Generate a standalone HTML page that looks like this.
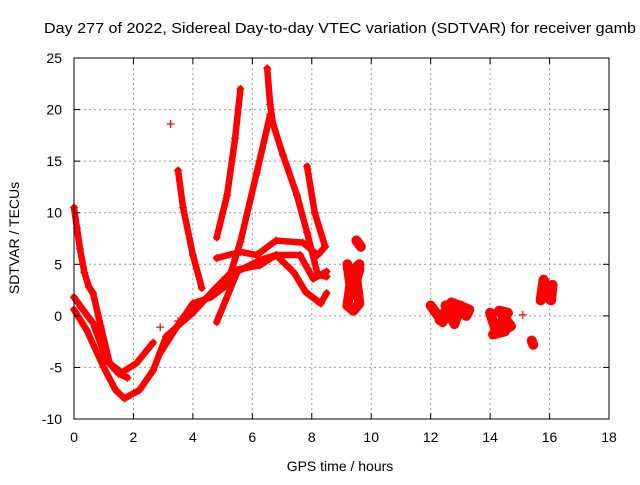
<!DOCTYPE html>
<html><head><meta charset="utf-8"><style>
body{margin:0;background:#fff}
svg{font-family:"Liberation Sans",sans-serif;font-size:14px}
</style></head><body>
<svg width="640" height="480">
<text x="340" y="33" text-anchor="middle" textLength="592" lengthAdjust="spacingAndGlyphs" style="font-size:15px">Day 277 of 2022, Sidereal Day-to-day VTEC variation (SDTVAR) for receiver gamb</text>
<g id="grid"></g>
<g id="marks"></g>
<rect x="74" y="58" width="535" height="361" fill="none" stroke="#000"/>
<g id="ticks"></g>
<text x="340" y="471" text-anchor="middle">GPS time / hours</text>
<text transform="translate(19,238) rotate(-90)" text-anchor="middle">SDTVAR / TECUs</text>
</svg>
<script>
const xTicks=[0,2,4,6,8,10,12,14,16,18];
const yTicks=[-10,-5,0,5,10,15,20,25];
const trackSteep=[[0,10.5],[0.1,8.5],[0.2,6.5],[0.35,4.2],[0.5,2.8],[0.64,2.2],[0.9,-1],[1.2,-4.6],[1.6,-5.5],[2.1,-4.6],[2.66,-2.6]];
const trackMid=[[0,1.8],[0.3,0.6],[0.64,-0.7],[1.1,-4.3],[1.5,-5.6],[1.8,-6]];
const trackLow=[[0,0.6],[0.43,-1.4],[1,-5],[1.4,-7.2],[1.7,-8],[2.2,-7.2],[2.66,-5.3],[3.1,-2],[3.6,-0.7],[4,0.3],[4.7,2.5],[5.35,4.4],[6.25,4.9],[6.8,5.9],[7.4,4.2],[7.8,2.3],[8.3,1.2],[8.5,2.2]];
const trackRise=[[2.9,-3.6],[3.45,-1.1],[4,1.2],[4.6,1.8],[5.15,3],[5.6,7.2],[6.15,13.9],[6.6,19.5],[7.03,15.6],[7.5,11.7],[7.84,8.1],[8.2,4],[8.5,3.8]];
const trackLate=[[4.8,-0.6],[5.5,4.3],[6.25,5.4],[6.8,5.9],[7.6,5.9],[8.05,3.6],[8.5,4.3]];
const trackUpper=[[4.8,5.6],[5.6,6.2],[6.15,5.9],[6.8,7.3],[7.7,7.1],[8.2,5.9],[8.45,6.7]];
const trackArc=[[3.5,14.1],[3.67,10.5],[4,5.9],[4.3,2.7]];
const trackClimb=[[4.8,7.6],[5.15,11.7],[5.42,17.2],[5.6,22]];
const trackSpike=[[6.5,24],[6.6,20.5],[6.7,18.5]];
const trackBranch=[[7.84,14.5],[8.1,10],[8.45,6.7]];
const cluster9=[[9.2,5],[9.3,3],[9.2,1],[9.4,0.5],[9.6,1.2],[9.5,3.5],[9.6,4.5],[9.3,2],[9.6,5],[9.25,4],[9.5,2.5]];
const cluster9b=[[9.5,7.3],[9.65,6.7]];
const cluster12=[[12.0,1],[12.2,0.2],[12.4,-0.6],[12.6,0.5],[12.8,-0.8],[13.0,1],[13.2,0],[13.3,0.6],[12.7,1.3],[12.3,-0.4],[12.9,0],[12.5,1]];
const cluster14=[[14.0,0.3],[14.2,-1.5],[14.4,-0.5],[14.6,0.3],[14.3,0.5],[14.7,-1],[14.1,-1.8],[14.5,-1.5]];
const cluster15=[[15.1,0.1]];
const cluster15b=[[15.4,-2.4],[15.45,-2.8]];
const cluster16=[[15.7,1.5],[15.8,3.5],[15.95,2.5],[16.1,3],[16.05,1.5],[15.85,2]];
const strays=[[3.25,18.6],[2.9,-1.1],[3.5,-0.5]];
const lineTracks=[trackSteep,trackMid,trackLow,trackRise,trackLate,trackUpper,trackArc,trackClimb,trackSpike,trackBranch];
const blobTracks=[cluster9,cluster9b,cluster12,cluster14,cluster15,cluster15b,cluster16];
const NS="http://www.w3.org/2000/svg";
const X=h=>74+h*535/18, Y=v=>58+(25-v)*361/35;
function mk(t,a,p){const e=document.createElementNS(NS,t);for(const k in a)e.setAttribute(k,a[k]);p.appendChild(e);return e;}
const grid=document.getElementById('grid'),ticks=document.getElementById('ticks'),marks=document.getElementById('marks');
xTicks.forEach(t=>{const x=X(t);
 if(t>0&&t<18){const l=mk('line',{x1:x,x2:x,y1:58,y2:419,stroke:'#999','stroke-dasharray':'2,3'},grid);
 
 }
 mk('line',{x1:x,x2:x,y1:419,y2:413,stroke:'#000'},ticks);mk('line',{x1:x,x2:x,y1:58,y2:64,stroke:'#000'},ticks);
 const tx=mk('text',{x:x,y:442,'text-anchor':'middle'},ticks);tx.textContent=t;
 
 });
yTicks.forEach(t=>{const y=Y(t);
 if(t>-10&&t<25){const l=mk('line',{x1:74,x2:609,y1:y,y2:y,stroke:'#999','stroke-dasharray':'2,3'},grid);
 
 }
 mk('line',{x1:74,x2:80,y1:y,y2:y,stroke:'#000'},ticks);mk('line',{x1:609,x2:603,y1:y,y2:y,stroke:'#000'},ticks);
 const tx=mk('text',{x:62,y:y+5,'text-anchor':'end'},ticks);tx.textContent=t;
 
 });
function plus(h,v){const x=X(h),y=Y(v);
 const g=mk('path',{d:`M${x-4},${y}H${x+4}M${x},${y-4}V${y+4}`,stroke:'#f00','stroke-width':1.2},marks);
 
 }
function draw(tr,w){
 if(tr.length>1){const p=mk('polyline',{points:tr.map(d=>X(d[0])+','+Y(d[1])).join(' '),fill:'none',stroke:'#f00','stroke-width':w,'stroke-linejoin':'round','stroke-linecap':'round'},marks);
 
 }
 tr.forEach(d=>plus(d[0],d[1]));}
lineTracks.forEach(tr=>draw(tr,6.5));
blobTracks.forEach(tr=>draw(tr,10));
strays.forEach(d=>plus(d[0],d[1]));
</script>
</body></html>
